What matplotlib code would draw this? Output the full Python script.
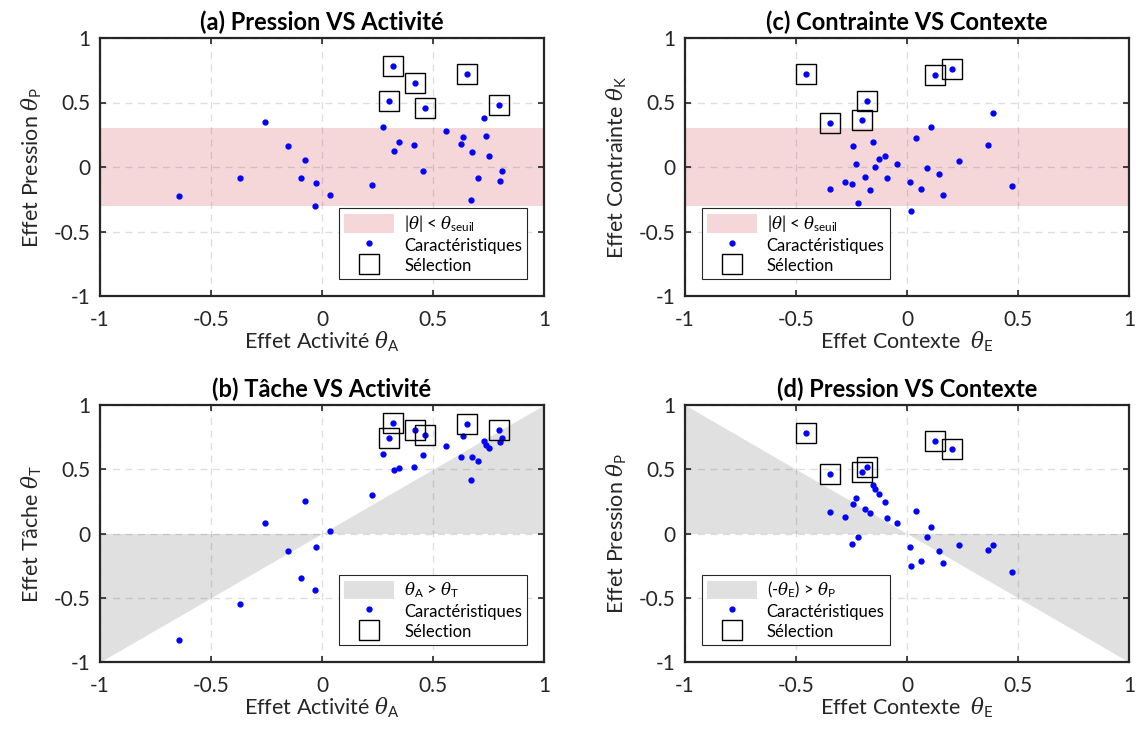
import matplotlib
matplotlib.use('Agg')
import matplotlib.pyplot as plt
from matplotlib.patches import Patch
from matplotlib.lines import Line2D
import numpy as np

plt.rcParams['font.family'] = ['Lato', 'DejaVu Sans']
plt.rcParams['mathtext.fontset'] = 'custom'
plt.rcParams['mathtext.rm'] = 'Lato'
plt.rcParams['mathtext.sf'] = 'Lato'
plt.rcParams['mathtext.it'] = 'DejaVu Serif:italic'

# Effets par caractéristique (26 non retenues puis 6 sélectionnées)
theta_A = [-0.642, -0.369, -0.257, -0.155, -0.075, -0.096, -0.025, -0.033, 0.036, 0.225,
           0.276, 0.325, 0.345, 0.413, 0.455, 0.560, 0.637, 0.628, 0.676, 0.669,
           0.703, 0.728, 0.737, 0.752, 0.813, 0.801,
           0.318, 0.300, 0.418, 0.463, 0.655, 0.797]
theta_P = [-0.227, -0.083, 0.349, 0.163, 0.054, -0.088, -0.127, -0.300, -0.217, -0.137,
           0.310, 0.127, 0.191, 0.168, -0.028, 0.279, 0.233, 0.178, 0.119, -0.253,
           -0.088, 0.377, 0.243, 0.085, -0.031, -0.106,
           0.780, 0.514, 0.654, 0.460, 0.718, 0.481]
theta_T = [-0.832, -0.548, 0.080, -0.140, 0.251, -0.349, -0.106, -0.442, 0.016, 0.300,
           0.618, 0.494, 0.509, 0.517, 0.612, 0.680, 0.755, 0.594, 0.592, 0.413,
           0.561, 0.718, 0.685, 0.669, 0.747, 0.713,
           0.860, 0.742, 0.809, 0.770, 0.853, 0.809]
theta_E = [0.164, -0.246, -0.142, -0.166, 0.106, 0.233, 0.363, 0.475, 0.061, 0.142,
           -0.124, -0.279, -0.191, -0.348, 0.091, -0.231, -0.242, 0.040, -0.091, 0.018,
           0.388, -0.154, -0.097, -0.046, -0.222, 0.012,
           -0.455, -0.181, 0.204, -0.348, 0.124, -0.203]
theta_K = [-0.220, -0.129, 0.000, -0.181, 0.310, 0.044, 0.168, -0.147, -0.171, -0.052,
           0.062, -0.116, -0.075, -0.173, -0.010, 0.026, 0.160, 0.225, -0.088, -0.341,
           0.421, 0.194, 0.088, 0.026, -0.279, -0.119,
           0.721, 0.509, 0.757, 0.341, 0.711, 0.362]
selection = [26, 27, 28, 29, 30, 31]
theta_seuil = 0.3
ticks = [-1, -0.5, 0, 0.5, 1]

pink = '#f5d7d9'
grey = '#e0e0e0'
dark = '#262626'

fig = plt.figure(figsize=(11.36, 7.31), dpi=100)
W, H = 1136, 731


def make_ax(left, top, right, bottom):
    return fig.add_axes([left / W, 1 - bottom / H, (right - left) / W, (bottom - top) / H])


panels = [
    # (box px, x, y, title, xlabel, ylabel, zone, legend label, legend loc)
    ((100, 38, 544, 296), theta_A, theta_P, '(a) Pression VS Activité',
     r'Effet Activité $\theta_{\mathrm{A}}$', r'Effet Pression $\theta_{\mathrm{P}}$',
     'band', r'$|\theta|$ < $\theta_{\mathrm{seuil}}$', 'lower right'),
    ((685, 38, 1129, 296), theta_E, theta_K, '(c) Contrainte VS Contexte',
     r'Effet Contexte  $\theta_{\mathrm{E}}$', r'Effet Contrainte $\theta_{\mathrm{K}}$',
     'band', r'$|\theta|$ < $\theta_{\mathrm{seuil}}$', 'lower left'),
    ((100, 405, 544, 662), theta_A, theta_T, '(b) Tâche VS Activité',
     r'Effet Activité $\theta_{\mathrm{A}}$', r'Effet Tâche $\theta_{\mathrm{T}}$',
     'diag', r'$\theta_{\mathrm{A}}$ > $\theta_{\mathrm{T}}$', 'lower right'),
    ((685, 405, 1129, 662), theta_E, theta_P, '(d) Pression VS Contexte',
     r'Effet Contexte  $\theta_{\mathrm{E}}$', r'Effet Pression $\theta_{\mathrm{P}}$',
     'anti', r'(-$\theta_{\mathrm{E}}$) > $\theta_{\mathrm{P}}$', 'lower left'),
]

for box, xs, ys, title, xlabel, ylabel, zone, zlabel, loc in panels:
    ax = make_ax(*box)
    xs = np.array(xs)
    ys = np.array(ys)

    xx = np.array([-1, 0, 1])
    if zone == 'band':
        ax.fill_between([-1, 1], -theta_seuil, theta_seuil, color=pink, lw=0, zorder=0)
        zcol = pink
    elif zone == 'diag':
        ax.fill_between(xx, 0, xx, color=grey, lw=0, zorder=0)
        zcol = grey
    else:
        ax.fill_between(xx, 0, -xx, color=grey, lw=0, zorder=0)
        zcol = grey

    ax.plot(xs, ys, '.', color='blue', ms=7, zorder=3)
    ax.plot(xs[selection], ys[selection], 's', mfc='none', mec='black', mew=1.0,
            ms=14, zorder=4)

    ax.set_xlim(-1, 1)
    ax.set_ylim(-1, 1)
    ax.set_xticks(ticks)
    ax.set_yticks(ticks)
    ax.set_xticklabels(['-1', '-0.5', '0', '0.5', '1'])
    ax.set_yticklabels(['-1', '-0.5', '0', '0.5', '1'])
    ax.grid(True, ls=(0, (5, 4)), color=dark, alpha=0.15, lw=1)
    ax.set_axisbelow(True)
    ax.tick_params(direction='in', top=True, right=True, length=4, width=1.2,
                   labelsize=15, colors=dark)
    ax.tick_params(axis='x', pad=10)
    ax.tick_params(axis='y', pad=7)
    for s in ax.spines.values():
        s.set_linewidth(1.6)
        s.set_color(dark)

    ax.set_title(title, fontsize=17, fontweight='bold', color='black', pad=6)
    ax.set_xlabel(xlabel, fontsize=15.5, color=dark, labelpad=0)
    ax.set_ylabel(ylabel, fontsize=15.5, color=dark, labelpad=7)

    handles = [
        Patch(facecolor=zcol, edgecolor='none'),
        Line2D([], [], ls='none', marker='.', color='blue', ms=7),
        Line2D([], [], ls='none', marker='s', mfc='none', mec='black', mew=1.0, ms=14),
    ]
    leg = ax.legend(handles, [zlabel, 'Caractéristiques', 'Sélection'], loc=loc,
                    fontsize=12, fancybox=False, framealpha=1, edgecolor=dark,
                    handlelength=3.0, handleheight=1.3, labelspacing=0.12,
                    borderpad=0.3, handletextpad=0.6, borderaxespad=1.0)
    leg.get_frame().set_linewidth(0.8)

fig.savefig('out.png', dpi=100)
